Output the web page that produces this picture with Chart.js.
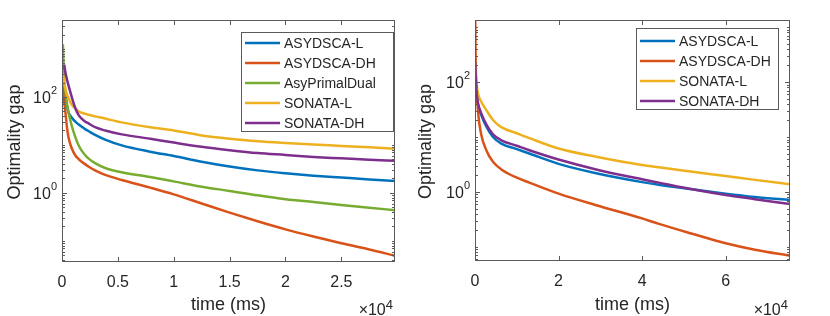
<!DOCTYPE html>
<html>
<head>
<meta charset="utf-8">
<script src="https://cdn.jsdelivr.net/npm/chart.js@4/dist/chart.umd.min.js"></script>
<style>
    html, body { margin: 0; padding: 0; background: #fff; }
    #wrap { position: relative; width: 830px; height: 316px; }
    canvas { position: absolute; top: 0; }
</style>
</head>
<body>
<div id="wrap">
    <canvas id="leftChart" width="415" height="316" style="left:0"></canvas>
    <canvas id="rightChart" width="415" height="316" style="left:415px"></canvas>
</div>
<script>
/* ==============================
   DATA (time in ms, optimality gap)
================================= */

const SERIES_NAMES_A = ['ASYDSCA-L', 'ASYDSCA-DH', 'AsyPrimalDual', 'SONATA-L', 'SONATA-DH'];
const SERIES_NAMES_B = ['ASYDSCA-L', 'ASYDSCA-DH', 'SONATA-L', 'SONATA-DH'];

// left panel
const TIME_A = [80, 200, 300, 420, 570, 870, 1170, 1470, 1760, 2060, 2360, 2960, 3860, 5350,
    7890, 10000, 12500, 15000, 17500, 20000, 22500, 25000, 27500, 29800];
const A_ASYDSCA_L = [282, 145, 100, 69.2, 49.0, 37.2, 30.9, 26.9, 24.0, 21.4, 19.5, 16.2, 12.9, 9.77,
    7.24, 5.89, 4.47, 3.55, 2.95, 2.57, 2.29, 2.09, 1.91, 1.78];
const A_ASYDSCA_DH = [224, 83.2, 50.1, 26.3, 14.8, 8.51, 6.17, 5.13, 4.47, 3.98, 3.55, 2.95, 2.37, 1.86,
    1.29, 0.933, 0.603, 0.389, 0.257, 0.174, 0.123, 0.0891, 0.0661, 0.0490];
const A_PRIMAL_DUAL = [1259, 224, 135, 79.4, 49.0, 25.1, 15.1, 10.0, 7.59, 6.17, 5.25, 4.17, 3.31, 2.69,
    2.14, 1.74, 1.35, 1.10, 0.891, 0.741, 0.646, 0.562, 0.490, 0.437];
const A_SONATA_L = [316, 200, 151, 117, 95.5, 69.2, 57.5, 50.1, 46.8, 44.7, 42.7, 39.4, 35.5, 29.5,
    23.4, 20.0, 15.8, 13.5, 12.0, 11.0, 10.2, 9.55, 8.91, 8.32];
const A_SONATA_DH = [null, 468, 331, 245, 178, 100, 60.3, 42.2, 35.5, 30.9, 28.2, 23.4, 20.0, 16.6,
    13.5, 11.2, 9.12, 7.76, 6.76, 6.17, 5.62, 5.25, 4.90, 4.68];

// right panel
const TIME_B = [60, 150, 320, 720, 1500, 2700, 4300, 6300, 10000, 13000, 20000, 29000,
    40000, 44000, 52000, 60000, 67000, 75400];
const B_ASYDSCA_L = [234, 126, 66.1, 38.0, 25.1, 15.5, 10.0, 7.59, 6.03, 5.01, 3.24, 2.19,
    1.51, 1.35, 1.12, 0.933, 0.813, 0.716];
const B_ASYDSCA_DH = [1330, 251, 100, 28.8, 11.0, 5.75, 3.55, 2.57, 1.82, 1.48, 0.933, 0.575,
    0.331, 0.263, 0.174, 0.117, 0.0891, 0.0692];
const B_SONATA_L = [234, 141, 100, 61.7, 43.7, 30.9, 20.4, 15.1, 11.7, 9.55, 6.17, 4.37,
    3.09, 2.82, 2.34, 1.95, 1.66, 1.38];
const B_SONATA_DH = [234, 132, 70.8, 41.7, 26.9, 17.0, 11.2, 8.71, 6.92, 5.75, 3.89, 2.57,
    1.70, 1.48, 1.12, 0.881, 0.741, 0.603];

// axes
const X_TICKS_A = [0, 5000, 10000, 15000, 20000, 25000];
const X_TICK_LABELS_A = ['0', '0.5', '1', '1.5', '2', '2.5'];
const X_TICKS_B = [0, 20000, 40000, 60000];
const X_TICK_LABELS_B = ['0', '2', '4', '6'];
const Y_TICKS = [1, 100];
const Y_TICK_EXPONENTS = ['0', '2'];

const COLORS = {
    'ASYDSCA-L': '#0072BD',
    'ASYDSCA-DH': '#D95319',
    'AsyPrimalDual': '#77AC30',
    'SONATA-L': '#EDB120',
    'SONATA-DH': '#7E2F8E'
};

const TEXT_COLOR = '#262626';
const AXIS_COLOR = '#5a5a5a';
const FONT = '"Liberation Sans", Arial, Helvetica, sans-serif';


/* ==============================
   MATLAB-STYLE AXES PLUGIN
================================= */

const matlabAxes = {
    id: 'matlabAxes',
    afterDraw(chart, args, opts) {
        const { ctx, chartArea: a } = chart;
        const xs = chart.scales.x;
        const ys = chart.scales.y;

        ctx.save();
        ctx.strokeStyle = AXIS_COLOR;
        ctx.lineWidth = 1;

        // box
        ctx.strokeRect(a.left + 0.5, a.top + 0.5, a.right - a.left - 1, a.bottom - a.top - 1);

        // x ticks (inward, top and bottom)
        ctx.beginPath();
        opts.xTicks.forEach(v => {
            const px = Math.round(xs.getPixelForValue(v)) + 0.5;
            ctx.moveTo(px, a.bottom);
            ctx.lineTo(px, a.bottom - 5);
            ctx.moveTo(px, a.top);
            ctx.lineTo(px, a.top + 5);
        });

        // y ticks, log minor ticks
        const kMin = Math.floor(Math.log10(ys.min));
        const kMax = Math.ceil(Math.log10(ys.max));
        for (let k = kMin; k <= kMax; k++) {
            for (let m = 1; m <= 9; m++) {
                const v = m * Math.pow(10, k);
                if (v < ys.min || v > ys.max) continue;
                const len = Y_TICKS.includes(v) ? 5 : 3;
                const py = Math.round(ys.getPixelForValue(v)) + 0.5;
                ctx.moveTo(a.left, py);
                ctx.lineTo(a.left + len, py);
                ctx.moveTo(a.right, py);
                ctx.lineTo(a.right - len, py);
            }
        }
        ctx.stroke();

        ctx.fillStyle = TEXT_COLOR;

        // x tick labels
        ctx.font = '16px ' + FONT;
        ctx.textAlign = 'center';
        ctx.textBaseline = 'alphabetic';
        opts.xTicks.forEach((v, i) => {
            ctx.fillText(opts.xTickLabels[i], xs.getPixelForValue(v), a.bottom + 25);
        });

        // y tick labels, 10^k
        Y_TICKS.forEach((v, i) => {
            const py = ys.getPixelForValue(v);
            ctx.font = '16px ' + FONT;
            const wBase = ctx.measureText('10').width;
            ctx.font = '11px ' + FONT;
            const wExp = ctx.measureText(Y_TICK_EXPONENTS[i]).width;
            const x0 = a.left - 5 - wExp - wBase;
            ctx.textAlign = 'left';
            ctx.font = '16px ' + FONT;
            ctx.fillText('10', x0, py + 6);
            ctx.font = '11px ' + FONT;
            ctx.fillText(Y_TICK_EXPONENTS[i], x0 + wBase, py - 3);
        });

        // x axis title
        ctx.font = '18px ' + FONT;
        ctx.textAlign = 'center';
        ctx.fillText('time (ms)', (a.left + a.right) / 2, 310);

        // x10^4 multiplier
        ctx.font = '13px ' + FONT;
        const wPow = ctx.measureText('4').width;
        ctx.font = '16px ' + FONT;
        const wMul = ctx.measureText('\u00d710').width;
        const mx = a.right - 2 - wPow - wMul;
        ctx.textAlign = 'left';
        ctx.fillText('\u00d710', mx, 315);
        ctx.font = '13px ' + FONT;
        ctx.fillText('4', mx + wMul, 309);

        // y axis title
        ctx.save();
        ctx.font = '18px ' + FONT;
        ctx.translate(opts.yTitleX, (a.top + a.bottom) / 2 + 1);
        ctx.rotate(-Math.PI / 2);
        ctx.textAlign = 'center';
        ctx.fillText('Optimality gap', 0, 0);
        ctx.restore();

        // legend
        const lg = opts.legend;
        const names = chart.data.datasets.map(d => d.label);
        ctx.fillStyle = '#fff';
        ctx.fillRect(lg.x, lg.y, lg.w, lg.h);
        ctx.strokeStyle = AXIS_COLOR;
        ctx.strokeRect(lg.x + 0.5, lg.y + 0.5, lg.w - 1, lg.h - 1);
        ctx.lineWidth = 2.5;
        ctx.font = '14px ' + FONT;
        ctx.textBaseline = 'middle';
        names.forEach((name, i) => {
            const cy = lg.y + lg.first + i * lg.step;
            ctx.strokeStyle = COLORS[name];
            ctx.beginPath();
            ctx.moveTo(lg.x + 4, cy);
            ctx.lineTo(lg.x + 39, cy);
            ctx.stroke();
            ctx.fillStyle = TEXT_COLOR;
            ctx.fillText(name, lg.x + 43, cy + 1);
        });

        ctx.restore();
    }
};


/* ==============================
   CHART BUILDER
================================= */

function makeDataset(name, times, values, index, total) {
    return {
        label: name,
        data: times.map((t, i) => ({ x: t, y: values[i] })),
        borderColor: COLORS[name],
        borderWidth: 2.5,
        pointRadius: 0,
        fill: false,
        cubicInterpolationMode: 'monotone',
        order: total - index
    };
}

function buildChart(canvasId, names, times, seriesList, cfg) {
    const ctx = document.getElementById(canvasId).getContext('2d');
    return new Chart(ctx, {
        type: 'line',
        data: {
            datasets: names.map((n, i) => makeDataset(n, times, seriesList[i], i, names.length))
        },
        options: {
            responsive: false,
            animation: false,
            devicePixelRatio: 1,
            layout: { padding: cfg.padding },
            scales: {
                x: { type: 'linear', display: false, min: 0, max: cfg.xMax },
                y: { type: 'logarithmic', display: false, min: cfg.yMin, max: cfg.yMax }
            },
            plugins: {
                legend: { display: false },
                tooltip: { enabled: false },
                matlabAxes: {
                    xTicks: cfg.xTicks,
                    xTickLabels: cfg.xTickLabels,
                    yTitleX: cfg.yTitleX,
                    legend: cfg.legend
                }
            }
        },
        plugins: [matlabAxes]
    });
}

buildChart('leftChart', SERIES_NAMES_A, TIME_A,
    [A_ASYDSCA_L, A_ASYDSCA_DH, A_PRIMAL_DUAL, A_SONATA_L, A_SONATA_DH], {
        padding: { left: 62, right: 20, top: 20, bottom: 54 },
        xMax: 29800,
        yMin: 0.0363,
        yMax: 4018,
        xTicks: X_TICKS_A,
        xTickLabels: X_TICK_LABELS_A,
        yTitleX: 20,
        legend: { x: 241, y: 32, w: 153, h: 100, first: 11, step: 20 }
    });

buildChart('rightChart', SERIES_NAMES_B, TIME_B,
    [B_ASYDSCA_L, B_ASYDSCA_DH, B_SONATA_L, B_SONATA_DH], {
        padding: { left: 60, right: 40, top: 20, bottom: 55 },
        xMax: 75400,
        yMin: 0.0556,
        yMax: 1340,
        xTicks: X_TICKS_B,
        xTickLabels: X_TICK_LABELS_B,
        yTitleX: 16,
        legend: { x: 221, y: 28, w: 143, h: 82, first: 13, step: 20 }
    });
</script>
</body>
</html>
